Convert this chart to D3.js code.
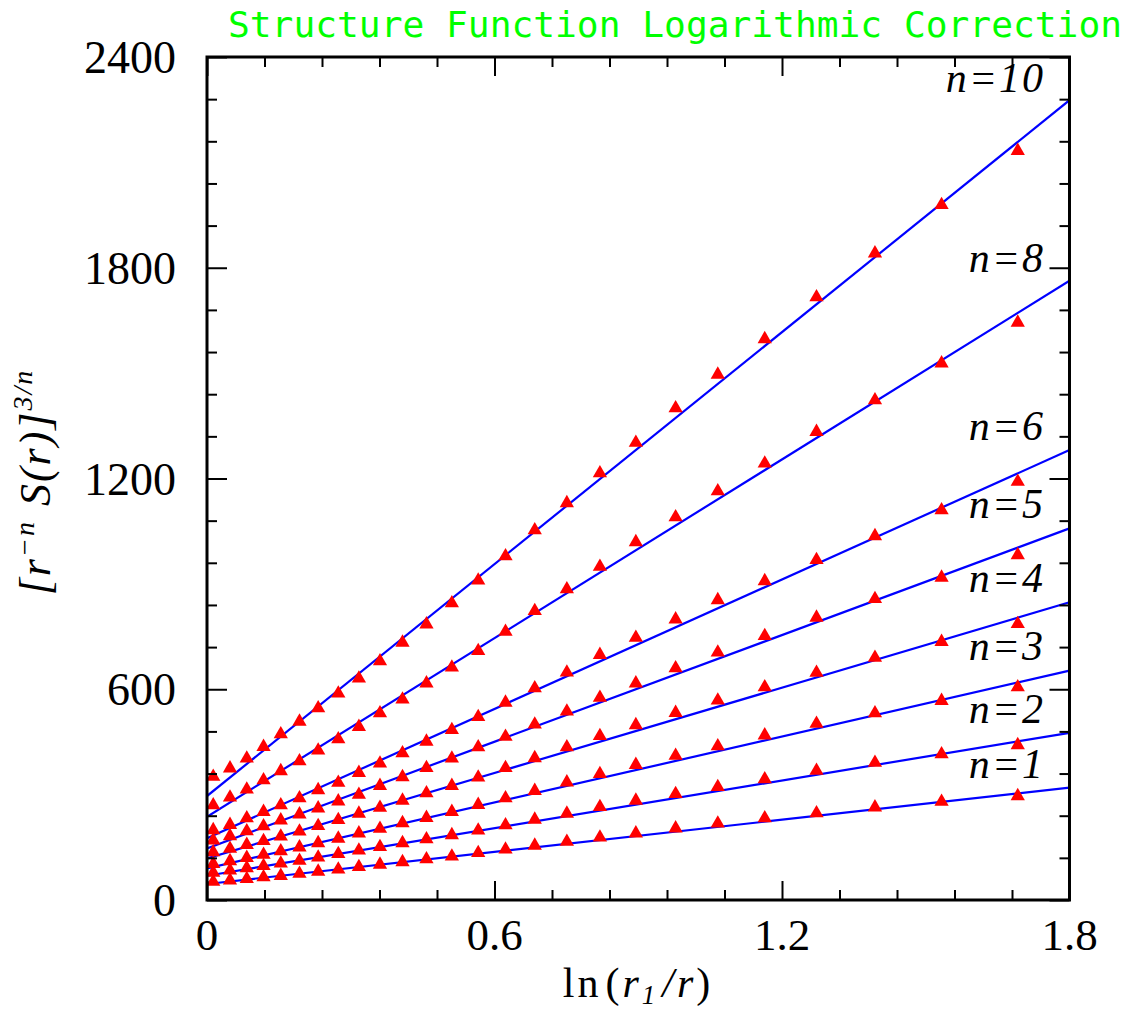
<!DOCTYPE html>
<html>
<head>
<meta charset="utf-8">
<script src="https://cdn.jsdelivr.net/npm/d3@7"></script>
<style>
  html, body { margin: 0; padding: 0; background: #fff; }
  svg { display: block; }
</style>
</head>
<body>
<svg id="chart" width="1129" height="1013"></svg>
<script>
// ---- data ----
const xValues = [0.013, 0.048, 0.083, 0.118, 0.154, 0.193, 0.232, 0.274, 0.317, 0.361, 0.408, 0.458, 0.511,
                 0.566, 0.623, 0.684, 0.751, 0.820, 0.895, 0.978, 1.066, 1.164, 1.272, 1.394, 1.533, 1.692];
const seriesNames = ["n=1", "n=2", "n=3", "n=4", "n=5", "n=6", "n=8", "n=10"];
const n1  = [52, 56, 60, 65, 69, 75, 81, 87, 94, 101, 108, 116, 124, 134, 144, 155, 166, 178, 190, 204, 218, 233, 247, 264, 280, 296];
const n2  = [78, 84, 91, 97, 104, 112, 121, 131, 141, 151, 162, 173, 185, 198, 213, 229, 246, 265, 283, 302, 322, 344, 368, 391, 415, 441];
const n3  = [103, 111, 120, 129, 139, 150, 162, 175, 190, 203, 219, 234, 251, 271, 290, 311, 335, 359, 385, 411, 438, 469, 502, 532, 567, 606];
const n4  = [136, 146, 157, 168, 181, 195, 211, 228, 246, 263, 283, 304, 325, 349, 376, 404, 435, 467, 498, 533, 568, 606, 647, 690, 735, 786];
const n5  = [170, 182, 196, 210, 227, 244, 261, 281, 300, 325, 350, 376, 403, 435, 465, 500, 537, 576, 617, 660, 705, 752, 804, 857, 918, 982];
const n6  = [199, 214, 233, 251, 270, 290, 313, 334, 362, 389, 418, 451, 484, 521, 562, 603, 648, 698, 747, 799, 854, 908, 968, 1036, 1110, 1191];
const n8  = [270, 292, 315, 341, 367, 395, 426, 458, 493, 532, 571, 617, 662, 709, 764, 823, 885, 949, 1019, 1090, 1164, 1243, 1333, 1423, 1528, 1644];
const n10 = [351, 375, 403, 436, 472, 508, 546, 588, 631, 680, 733, 785, 845, 910, 979, 1053, 1130, 1215, 1302, 1400, 1496, 1597, 1716, 1841, 1979, 2133];
const seriesValues = [n1, n2, n3, n4, n5, n6, n8, n10];
// fitted straight lines: value at x = 0 and at x = 1.8
const lineX = [0, 1.8];
const lineStart = [45.5, 69, 90, 118.6, 147, 175.6, 237, 296];
const lineEnd   = [320, 476, 653, 847.5, 1058, 1281, 1763, 2277];
// label baseline values (where the n= labels sit)
const labelValues = [320, 476, 654, 847, 1060, 1280, 1760, 2273];
const xTickLabels = ["0", "0.6", "1.2", "1.8"];
const xMajor = [0, 0.6, 1.2, 1.8];
const yTickLabels = ["0", "600", "1200", "1800", "2400"];
const yMajor = [0, 600, 1200, 1800, 2400];

// ---- layout ----
const svg = d3.select("#chart");
const pLeft = 207, pRight = 1069.5, pTop = 57, pBottom = 900;
const x = d3.scaleLinear().domain([0, 1.8]).range([pLeft, pRight]);
const y = d3.scaleLinear().domain([0, 2400]).range([pBottom, pTop]);

const serif = "'Liberation Serif', 'Times New Roman', serif";

// title
svg.append("text")
  .attr("x", 228).attr("y", 37)
  .attr("textLength", 894).attr("lengthAdjust", "spacingAndGlyphs")
  .attr("font-family", "'DejaVu Sans Mono', 'Liberation Mono', monospace")
  .attr("font-size", 35)
  .attr("fill", "#00ff00")
  .text("Structure Function Logarithmic Correction");

// clip
svg.append("clipPath").attr("id", "plotclip")
  .append("rect").attr("x", pLeft).attr("y", pTop).attr("width", pRight - pLeft).attr("height", pBottom - pTop);

const plot = svg.append("g").attr("clip-path", "url(#plotclip)");

// fit lines
const lineGen = d3.line().x(d => x(d[0])).y(d => y(d[1]));
seriesNames.forEach((name, i) => {
  plot.append("path")
    .datum([[lineX[0], lineStart[i]], [lineX[1], lineEnd[i]]])
    .attr("d", lineGen)
    .attr("fill", "none")
    .attr("stroke", "#0000ff")
    .attr("stroke-width", 2.2);
});

// points
const tri = d3.symbol().type(d3.symbolTriangle).size(88);
seriesValues.forEach((vals, i) => {
  plot.append("g").selectAll("path")
    .data(vals.map((v, k) => [xValues[k], v]))
    .join("path")
    .attr("d", tri)
    .attr("transform", d => `translate(${x(d[0])},${y(d[1])})`)
    .attr("fill", "#ff0000");
});

// axes (ticks inward)
const xMinor = d3.range(0, 1.8001, 0.12).filter(v => !xMajor.some(m => Math.abs(m - v) < 1e-6));
const yMinor = d3.range(0, 2400.1, 120).filter(v => !yMajor.some(m => Math.abs(m - v) < 1e-6));

function styleAxis(g) {
  g.select(".domain").remove();
  g.selectAll("line").attr("stroke", "#000").attr("stroke-width", 2);
  g.selectAll("text").remove();
}
svg.append("g").attr("transform", `translate(0,${pBottom})`)
  .call(d3.axisBottom(x).tickValues(xMajor).tickSize(-19)).call(styleAxis);
svg.append("g").attr("transform", `translate(0,${pBottom})`)
  .call(d3.axisBottom(x).tickValues(xMinor).tickSize(-10)).call(styleAxis);
svg.append("g").attr("transform", `translate(0,${pTop})`)
  .call(d3.axisTop(x).tickValues(xMajor).tickSize(-19)).call(styleAxis);
svg.append("g").attr("transform", `translate(0,${pTop})`)
  .call(d3.axisTop(x).tickValues(xMinor).tickSize(-10)).call(styleAxis);
svg.append("g").attr("transform", `translate(${pLeft},0)`)
  .call(d3.axisLeft(y).tickValues(yMajor).tickSize(-20)).call(styleAxis);
svg.append("g").attr("transform", `translate(${pLeft},0)`)
  .call(d3.axisLeft(y).tickValues(yMinor).tickSize(-10)).call(styleAxis);
svg.append("g").attr("transform", `translate(${pRight},0)`)
  .call(d3.axisRight(y).tickValues(yMajor).tickSize(-20)).call(styleAxis);
svg.append("g").attr("transform", `translate(${pRight},0)`)
  .call(d3.axisRight(y).tickValues(yMinor).tickSize(-10)).call(styleAxis);

// frame
svg.append("rect")
  .attr("x", pLeft).attr("y", pTop).attr("width", pRight - pLeft).attr("height", pBottom - pTop)
  .attr("fill", "none").attr("stroke", "#000").attr("stroke-width", 3);

// tick labels
svg.append("g").selectAll("text")
  .data(xMajor)
  .join("text")
  .attr("x", d => x(d)).attr("y", 950)
  .attr("text-anchor", "middle")
  .attr("font-family", serif).attr("font-size", 45)
  .text((d, i) => xTickLabels[i]);

svg.append("g").selectAll("text")
  .data(yMajor)
  .join("text")
  .attr("x", 176).attr("y", d => y(d) + 16)
  .attr("text-anchor", "end")
  .attr("font-family", serif).attr("font-size", 46)
  .text((d, i) => yTickLabels[i]);

// series labels
svg.append("g").selectAll("text")
  .data(seriesNames)
  .join("text")
  .attr("x", 1045)
  .attr("y", (d, i) => y(labelValues[i]) - 10)
  .attr("text-anchor", "end")
  .attr("font-family", serif).attr("font-style", "italic").attr("font-size", 42)
  .attr("letter-spacing", 2)
  .text(d => d);

// x-axis title: ln(r1/r)
const xt = svg.append("text")
  .attr("x", 638).attr("y", 997)
  .attr("text-anchor", "middle")
  .attr("font-family", serif).attr("font-size", 42)
  .attr("letter-spacing", 3);
xt.append("tspan").text("ln");
xt.append("tspan").attr("dx", 4).text("(");
xt.append("tspan").attr("font-style", "italic").text("r");
xt.append("tspan").attr("font-style", "italic").attr("font-size", 27).attr("dy", 7).text("1");
xt.append("tspan").attr("font-style", "italic").attr("dy", -7).attr("dx", 4).text("/r");
xt.append("tspan").text(")");

// y-axis title: [r^-n S(r)]^(3/n)
const yt = svg.append("text")
  .attr("transform", "translate(50,482) rotate(-90)")
  .attr("text-anchor", "middle")
  .attr("font-family", serif).attr("font-size", 44)
  .attr("letter-spacing", 2);
yt.append("tspan").attr("font-style", "italic").text("[r");
yt.append("tspan").attr("font-size", 28).attr("font-style", "italic").attr("dy", -16).text("\u2212n");
yt.append("tspan").attr("dy", 16).attr("dx", 14).attr("font-style", "italic").text("S(r)]");
yt.append("tspan").attr("font-size", 28).attr("font-style", "italic").attr("dy", -18).text("3/n");
</script>
</body>
</html>
